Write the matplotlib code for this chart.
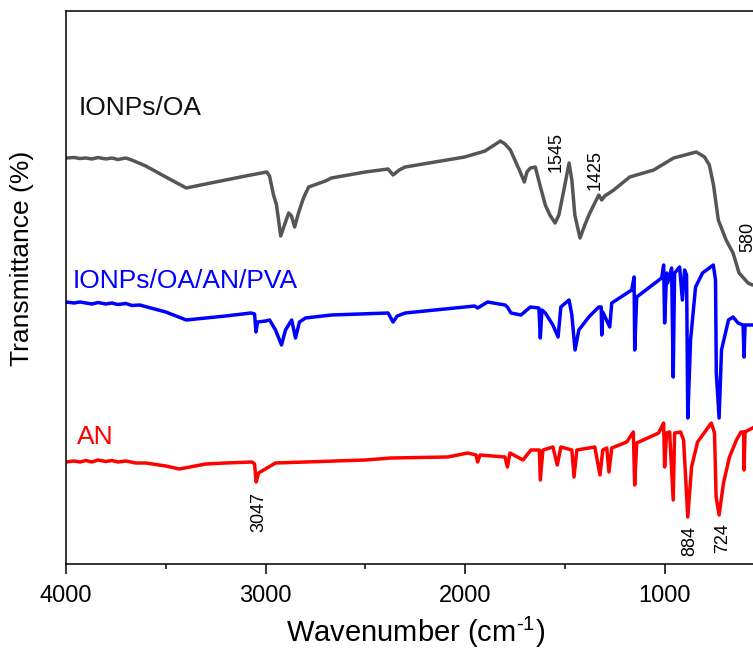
"""FTIR spectra of AN, IONPs/OA and IONPs/OA/AN/PVA
"""
import numpy as np
import matplotlib
matplotlib.use('Agg')
import matplotlib.pyplot as plt

plt.rcParams['font.family'] = ['Liberation Sans', 'DejaVu Sans']
plt.rcParams['mathtext.fontset'] = 'custom'
plt.rcParams['mathtext.rm'] = 'Liberation Sans'
plt.rcParams['mathtext.default'] = 'regular'

# wavenumber (cm-1) and stacked transmittance (offset, a.u.)
wn_oa = [4000, 3960, 3930, 3900, 3870, 3840, 3800, 3770, 3740, 3700, 3671, 3600,
         3500, 3397, 3300, 3200, 3100, 2994,
         2980, 2960, 2945, 2924, 2900, 2884, 2870, 2854, 2835, 2810, 2784, 2700,
         2670, 2500, 2386, 2361, 2330, 2300, 2002, 1900, 1823, 1800, 1773, 1728,
         1703, 1690, 1673, 1648, 1625, 1598, 1575, 1549, 1530, 1500, 1479, 1465,
         1450, 1424, 1400, 1375, 1330, 1315, 1300, 1255, 1175, 1055, 955, 841,
         800, 776, 755, 731, 692, 657, 627, 582, 560, 540]
tr_oa = [406, 406.5, 405.5, 406, 405, 406.5, 405, 406, 404.5, 406, 404, 398,
         387, 376, 380, 384, 388, 392,
         388, 369, 359, 328, 342, 351, 348, 337, 351, 366, 377, 383,
         386, 392, 395, 389, 394, 397, 407, 413, 423, 420, 414, 394,
         382, 392, 396, 397, 379, 359, 349, 341, 349, 379, 401, 384,
         349, 326, 339, 351, 369, 364, 368, 374, 387, 394, 406, 412,
         407, 399, 379, 344, 324, 311, 291, 281, 279, 280]

wn_pva = [4000, 3960, 3930, 3900, 3870, 3840, 3800, 3770, 3740, 3700, 3670, 3631,
          3500, 3397, 3300, 3200, 3073, 3055, 3048,
          3040, 3000, 2980, 2950, 2920, 2900, 2869, 2850, 2830, 2800, 2670, 2386,
          2361, 2340, 2300, 1952, 1937, 1887, 1800, 1788, 1770, 1720, 1673, 1630,
          1623, 1615, 1598, 1560, 1534, 1520, 1479, 1465, 1449, 1430, 1380, 1330,
          1318, 1315, 1310, 1275, 1265, 1165, 1153, 1150, 1140, 1015, 1005, 1000,
          990, 985, 965, 957, 950, 925, 911, 900, 890, 884, 870, 845,
          810, 756, 745, 741, 727, 715, 680, 657, 632, 607, 602, 597, 560]
tr_pva = [262, 261, 262, 261, 260, 261.5, 260, 261, 259.5, 260.5, 258.5, 259,
          252, 244, 246, 248, 251, 250, 232,
          242, 243, 244, 234, 219, 234, 244, 226, 242, 246, 249, 251,
          242, 248, 251, 258, 256, 262, 259, 257, 251, 249, 257, 256,
          226, 254, 251, 239, 227, 257, 264, 249, 214, 234, 247, 257,
          257, 229, 252, 237, 261, 274, 287, 214, 267, 286, 299, 241,
          291, 281, 296, 187, 291, 297, 264, 294, 289, 146, 224, 277,
          291, 299, 284, 191, 146, 214, 244, 247, 241, 239, 207, 239, 239]

wn_an = [4000, 3960, 3930, 3900, 3870, 3840, 3800, 3770, 3740, 3700, 3650, 3600,
         3500, 3432, 3300, 3200, 3068, 3055, 3047,
         3035, 2950, 2500, 2371, 2087, 1987, 1945, 1937, 1925, 1800, 1788, 1775,
         1710, 1670, 1628, 1623, 1610, 1560, 1538, 1520, 1465, 1454, 1440, 1350,
         1324, 1310, 1290, 1279, 1265, 1190, 1157, 1150, 1140, 1030, 1005, 1000,
         990, 975, 957, 950, 920, 905, 884, 865, 835, 766, 750, 742,
         727, 705, 675, 640, 617, 604, 602, 597, 560]
tr_an = [102, 103, 102, 103.5, 102, 104, 102.5, 103.5, 102, 103, 101, 101,
         98, 95, 100, 101, 102, 100, 82,
         91, 101, 104, 106, 107, 111, 109, 102, 109, 107, 97, 111,
         104, 114, 114, 84, 114, 117, 99, 117, 114, 87, 114, 117,
         89, 114, 116, 92, 116, 122, 132, 79, 121, 131, 141, 97,
         131, 132, 64, 131, 132, 124, 47, 97, 122, 141, 131, 67,
         49, 81, 107, 124, 132, 132, 94, 132, 136]

peak_labels = ['1545', '1425', '580', '3047', '884', '724']
peak_wn = [1545, 1350, 585, 3033, 876, 711]
peak_tr = [412, 394, 312, 52, 23, 26]

fig = plt.figure(figsize=(7.53, 6.51), dpi=100)
ax = fig.add_axes([66 / 753, 87 / 651, 698.4 / 753, 553 / 651])

ax.plot(wn_oa, tr_oa, color='#555555', lw=2.5)
ax.plot(wn_pva, tr_pva, color='#0000ff', lw=2.5)
ax.plot(wn_an, tr_an, color='#ff0000', lw=2.5)

ax.text(3935, 449, 'IONPs/OA', color='#111111', fontsize=19, va='baseline')
ax.text(3965, 276, 'IONPs/OA/AN/PVA', color='#0000ff', fontsize=19, va='baseline')
ax.text(3945, 120, 'AN', color='#ff0000', fontsize=19, va='baseline')

for lab, w, t in zip(peak_labels, peak_wn, peak_tr):
    va = 'bottom' if lab == '580' else 'center'
    ax.text(w, t, lab, rotation=90, fontsize=13, ha='center', va=va)

ax.set_xlim(4000, 520)
ax.set_ylim(0, 553)
ax.set_xticks([4000, 3000, 2000, 1000])
ax.set_xticks([3500, 2500, 1500, 500], minor=True)
ax.set_yticks([])
ax.tick_params(axis='x', which='major', length=7, width=1.1, pad=8, labelsize=17)
ax.tick_params(axis='x', which='minor', length=3.5, width=1.1)
for s in ax.spines.values():
    s.set_linewidth(1.1)

ax.set_xlabel(r'Wavenumber (cm$^{\text{-1}}$)', fontsize=21, labelpad=6)
fig.text(22 / 753, 1 - 258 / 651, 'Transmittance (%)', fontsize=19,
         rotation=90, ha='center', va='center')

fig.savefig('out.png', dpi=100)
